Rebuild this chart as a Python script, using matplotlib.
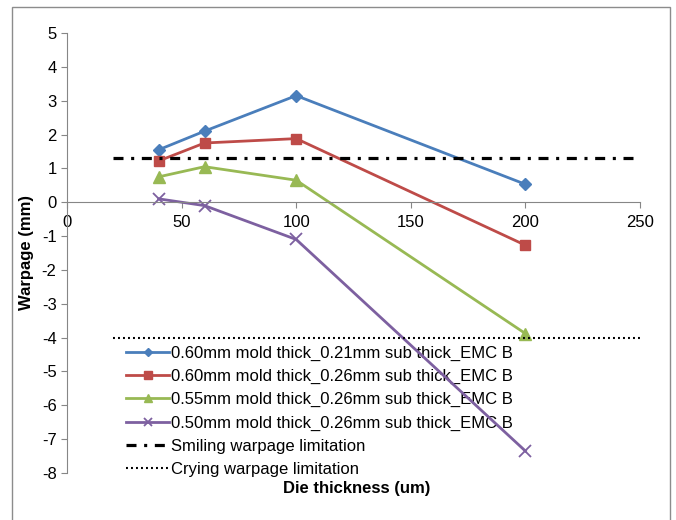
import matplotlib.pyplot as plt
from matplotlib.patches import Rectangle

plt.rcParams['font.family'] = ['Liberation Sans', 'DejaVu Sans']
plt.rcParams['axes.unicode_minus'] = False
plt.rcParams['lines.scale_dashes'] = False

# Data
die_thickness = [40, 60, 100, 200]
series_labels = [
    "0.60mm mold thick_0.21mm sub thick_EMC B",
    "0.60mm mold thick_0.26mm sub thick_EMC B",
    "0.55mm mold thick_0.26mm sub thick_EMC B",
    "0.50mm mold thick_0.26mm sub thick_EMC B",
]
warp_060_021 = [1.55, 2.1, 3.15, 0.53]
warp_060_026 = [1.22, 1.75, 1.88, -1.27]
warp_055_026 = [0.75, 1.05, 0.65, -3.88]
warp_050_026 = [0.1, -0.1, -1.1, -7.35]

limit_x = [20, 250]
smiling_limit = 1.3
crying_limit = -4

colors = ['#4A7EBB', '#BE4B48', '#98B954', '#7D60A0']
markers = ['D', 's', '^', 'x']
msizes = [6.5, 7.5, 8, 8]

fig = plt.figure(figsize=(6.76, 5.2), dpi=100)
fig.patches.append(Rectangle((12 / 676, -0.1), (670 - 12) / 676, 1.1 - 7 / 520,
                             transform=fig.transFigure, fill=False,
                             edgecolor='#8c8c8c', linewidth=1))
ax = fig.add_axes([67 / 676, 1 - 473 / 520, (640 - 67) / 676, (473 - 33) / 520])

all_series = [warp_060_021, warp_060_026, warp_055_026, warp_050_026]
for vals, lab, c, m, ms in zip(all_series, series_labels, colors, markers, msizes):
    ax.plot(die_thickness, vals, color=c, marker=m, markersize=ms, linewidth=2,
            markeredgewidth=1.3 if m == 'x' else 1, label=lab)

ax.plot(limit_x, [smiling_limit] * 2, color='black', linewidth=2.3,
        dashes=(7.2, 5.5, 2.2, 5.5), label="Smiling warpage limitation")
ax.plot(limit_x, [crying_limit] * 2, color='black', linewidth=1.5,
        linestyle=(0, (1.4, 2.2)), label="Crying warpage limitation")

ax.set_xlim(0, 250)
ax.set_ylim(-8, 5)
ax.set_xticks(range(0, 251, 50))
ax.set_yticks(range(-8, 6))
ax.spines['top'].set_visible(False)
ax.spines['right'].set_visible(False)
ax.spines['bottom'].set_position(('data', 0))
for s in ['left', 'bottom']:
    ax.spines[s].set_color('#868686')
ax.tick_params(colors='#868686', labelcolor='black', labelsize=12, length=4)
ax.tick_params(axis='x', pad=5)

fig.text(26 / 676, 1 - 253 / 520, "Warpage (mm)", rotation=90, ha='center',
         va='center', fontsize=12, fontweight='bold')
fig.text(357 / 676, 1 - 488 / 520, "Die thickness (um)", ha='center',
         va='center', fontsize=12, fontweight='bold')

leg = ax.legend(loc='upper left', bbox_to_anchor=(126 / 676, 1 - 346 / 520),
                bbox_transform=fig.transFigure, frameon=False, fontsize=12,
                handlelength=2.6, handletextpad=0.1, labelspacing=0.48,
                borderaxespad=0, borderpad=0, markerscale=0.7)
leg.set_zorder(1)  # data lines run over the legend, as in the original

fig.savefig("out.png", dpi=100)
